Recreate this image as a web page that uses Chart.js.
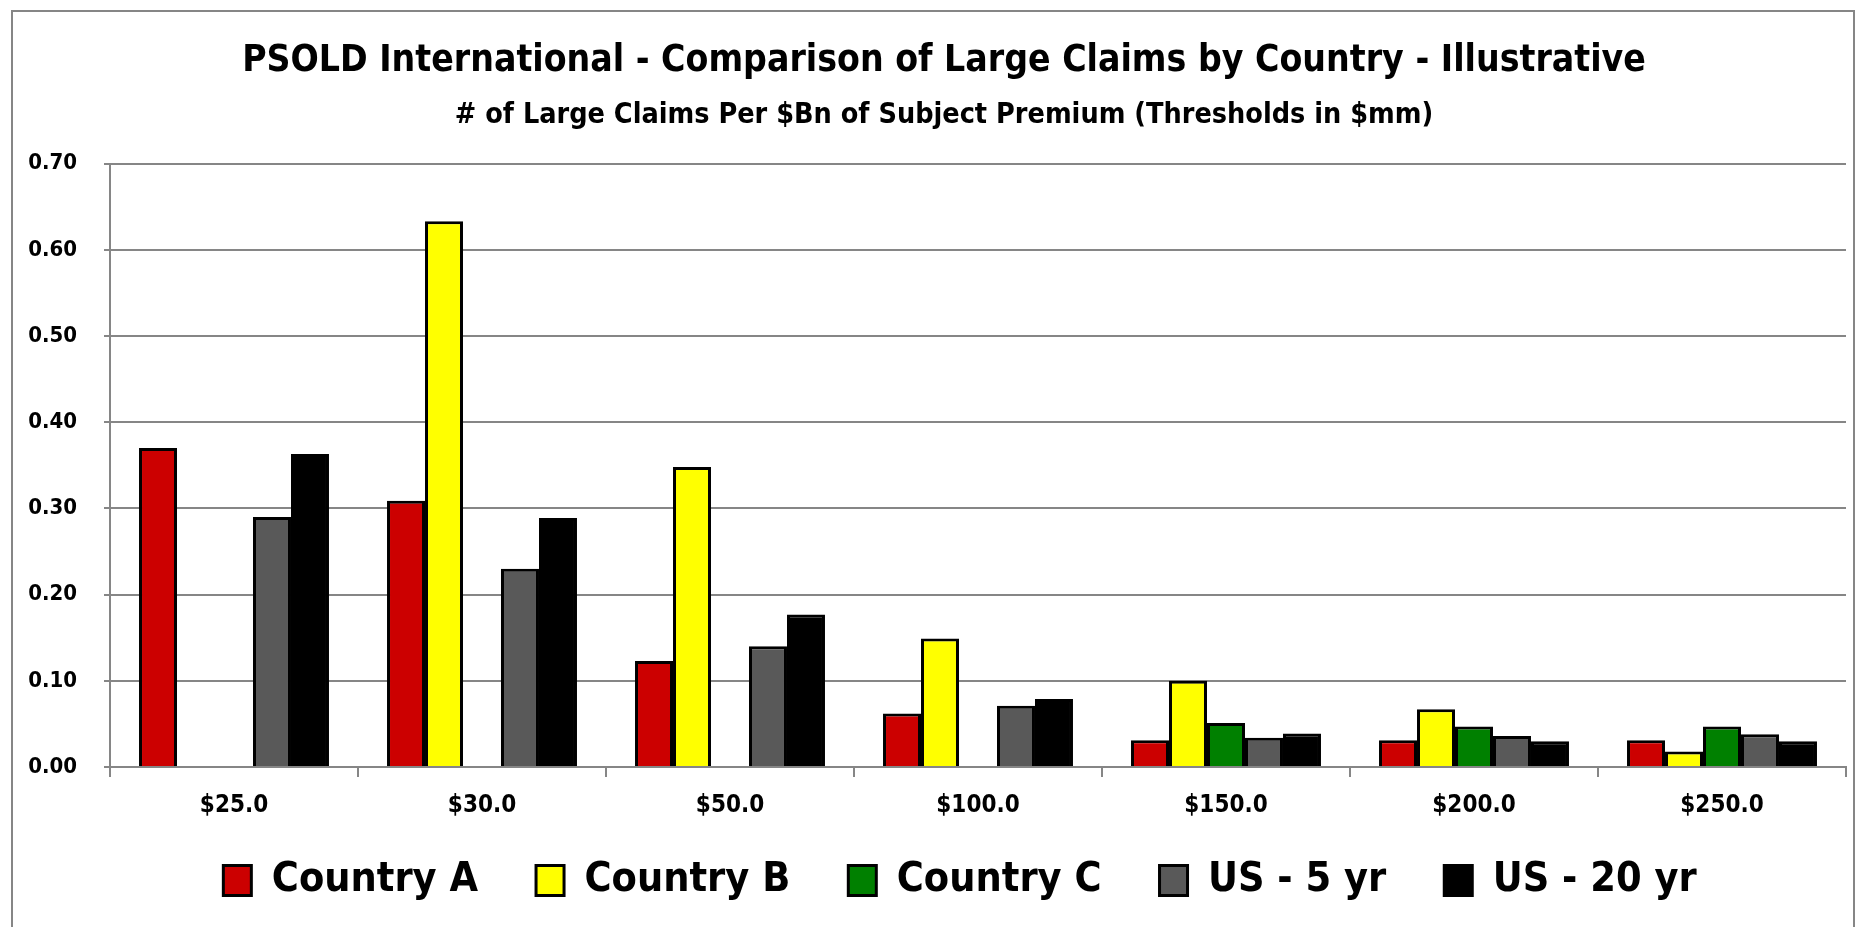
<!DOCTYPE html>
<html>
<head>
<meta charset="utf-8">
<script src="https://cdn.jsdelivr.net/npm/chart.js@4"></script>
<style>
  html, body { margin: 0; padding: 0; background: #fff; }
  #wrap { width: 1860px; height: 927px; position: relative; }
</style>
</head>
<body>
<div id="wrap"><canvas id="claimsChart"></canvas></div>
<script>
// ==========================
// Data
// ==========================
const thresholds = ['$25.0', '$30.0', '$50.0', '$100.0', '$150.0', '$200.0', '$250.0'];
const countryA   = [0.370, 0.309, 0.123, 0.062, 0.031, 0.031, 0.031];
const countryB   = [null,  0.633, 0.348, 0.149, 0.100, 0.067, 0.018];
const countryC   = [null,  null,  null,  null,  0.051, 0.047, 0.047];
const us5yr      = [0.290, 0.230, 0.140, 0.071, 0.034, 0.036, 0.038];
const us20yr     = [0.363, 0.289, 0.177, 0.079, 0.039, 0.030, 0.030];
const yTicks     = [0.00, 0.10, 0.20, 0.30, 0.40, 0.50, 0.60, 0.70];

const FONT = "'DejaVu Sans Condensed', 'Liberation Sans Narrow', sans-serif";
const GRID = '#868686';

// outer frame like the spreadsheet chart area
const framePlugin = {
  id: 'frame',
  beforeDraw(chart) {
    const c = chart.ctx;
    c.save();
    c.fillStyle = '#fff';
    c.fillRect(0, 0, chart.width, chart.height);
    c.strokeStyle = GRID;
    c.lineWidth = 2;
    c.strokeRect(12, 11, 1842, 940);
    c.restore();
  }
};

// nudge titles and legend so they sit where the original ones do
const boxNudge = {
  id: 'boxNudge',
  afterLayout(chart) {
    chart.boxes.forEach(b => {
      if (b === chart.legend) {
        b.top -= 20; b.bottom -= 20;
        b.left += 27; b.right += 27;
      } else if (b.options && typeof b.options.text === 'string' && b.options.text) {
        b.left += 11; b.right += 11;
      }
    });
  }
};

function series(label, data, color) {
  return {
    label: label,
    data: data,
    backgroundColor: color,
    borderColor: '#000',
    borderWidth: 3,
    borderSkipped: 'start'
  };
}

const ctx = document.getElementById('claimsChart').getContext('2d');
new Chart(ctx, {
  type: 'bar',
  data: {
    labels: thresholds,
    datasets: [
      series('Country A', countryA, '#CC0000'),
      series('Country B', countryB, '#FFFF00'),
      series('Country C', countryC, '#008000'),
      series('US - 5 yr', us5yr, '#595959'),
      series('US - 20 yr', us20yr, '#000000')
    ]
  },
  options: {
    responsive: true,
    maintainAspectRatio: false,
    animation: false,
    barPercentage: 1,
    categoryPercentage: 0.766,
    layout: { padding: { top: 0, left: 20, right: 14, bottom: 0 } },
    plugins: {
      title: {
        display: true,
        text: 'PSOLD International - Comparison of Large Claims by Country - Illustrative',
        color: '#000',
        font: { family: FONT, size: 37, weight: 'bold' },
        padding: { top: 39, bottom: 15 }
      },
      subtitle: {
        display: true,
        text: '# of Large Claims Per $Bn of Subject Premium (Thresholds in $mm)',
        color: '#000',
        font: { family: FONT, size: 28.5, weight: 'bold' },
        padding: { top: 0, bottom: 31 }
      },
      legend: {
        position: 'bottom',
        maxHeight: 105,
        labels: {
          color: '#000',
          font: { family: FONT, size: 41, weight: 'bold' },
          boxWidth: 28,
          boxHeight: 30,
          padding: 58
        }
      },
      tooltip: { enabled: false }
    },
    scales: {
      x: {
        grid: { display: true, drawOnChartArea: false, drawTicks: true, tickLength: 10, color: GRID, lineWidth: 2 },
        border: { color: GRID, width: 2 },
        ticks: { color: '#000', font: { family: FONT, size: 24, weight: 'bold' }, padding: 14 },
        afterFit(scale) { scale.height = 55; }
      },
      y: {
        min: 0,
        max: 0.7,
        afterBuildTicks(scale) { scale.ticks = yTicks.map(v => ({ value: v })); },
        grid: { color: GRID, lineWidth: 2, tickLength: 6 },
        border: { color: GRID, width: 2 },
        ticks: {
          color: '#000',
          font: { family: FONT, size: 22, weight: 'bold' },
          padding: 27,
          callback: v => Number(v).toFixed(2)
        },
        afterFit(scale) { scale.width = 90; }
      }
    }
  },
  plugins: [framePlugin, boxNudge]
});
</script>
</body>
</html>
